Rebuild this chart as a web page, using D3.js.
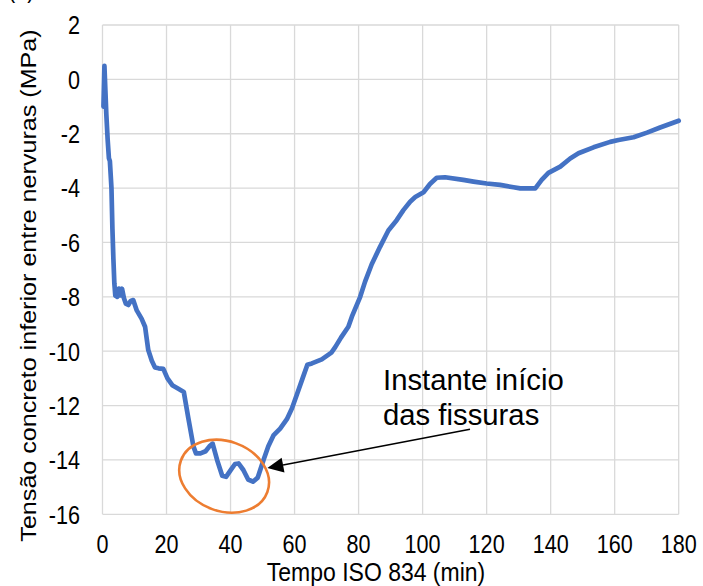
<!DOCTYPE html>
<html>
<head>
<meta charset="utf-8">
<script src="https://cdn.jsdelivr.net/npm/d3@7"></script>
<style>
  html, body { margin: 0; padding: 0; background: #fff; }
  svg { display: block; }
  text { font-family: "Liberation Sans", Arial, sans-serif; fill: #000; }
</style>
</head>
<body>
<svg id="chart" width="703" height="586"></svg>
<script>
// ---- data ----
const timeMin = [0.3,0.6,0.9,1.2,1.6,2.0,2.3,2.8,3.1,3.4,3.7,4.0,4.6,5.1,5.6,6.1,6.7,7.3,8.1,8.8,9.6,10.7,12.2,13.3,14.3,15.4,16.4,17.5,19.0,20.3,21.8,23.7,25.4,26.8,28.4,29.2,30.6,32.2,33.4,34.4,35.8,37.4,38.6,40.2,41.4,42.5,44.0,45.5,47.0,48.5,50.3,51.8,53.4,55.5,57.6,59.2,60.7,62.5,64.0,65.4,68.5,71.5,72.7,74.5,76.8,77.9,80.5,82.0,84.1,86.7,89.3,91.9,94.0,96.1,97.7,100.3,102.3,104.4,107.0,112.7,115.9,120.0,124.2,128.4,130.5,135.2,137.2,139.3,143.0,146.1,148.7,153.4,158.6,161.2,165.9,170.1,174.2,180.0];
const stressMPa = [-1.0,0.5,-0.4,-1.3,-2.2,-2.9,-3.0,-4.0,-5.5,-6.6,-7.5,-7.95,-8.0,-7.7,-7.95,-7.7,-8.05,-8.25,-8.3,-8.15,-8.12,-8.5,-8.8,-9.1,-9.96,-10.35,-10.6,-10.63,-10.65,-11.0,-11.25,-11.38,-11.5,-12.45,-13.5,-13.76,-13.76,-13.68,-13.5,-13.4,-14.0,-14.58,-14.62,-14.35,-14.15,-14.13,-14.37,-14.72,-14.8,-14.65,-14.0,-13.5,-13.1,-12.85,-12.5,-12.1,-11.6,-11.0,-10.5,-10.45,-10.3,-10.05,-9.85,-9.5,-9.1,-8.73,-8.0,-7.45,-6.8,-6.16,-5.56,-5.18,-4.81,-4.5,-4.33,-4.15,-3.85,-3.62,-3.6,-3.7,-3.76,-3.83,-3.88,-3.97,-4.01,-4.01,-3.7,-3.44,-3.21,-2.91,-2.72,-2.5,-2.3,-2.23,-2.13,-1.96,-1.77,-1.52];
const xTicks = [0,20,40,60,80,100,120,140,160,180];
const yTicks = [2,0,-2,-4,-6,-8,-10,-12,-14,-16];
const xTitle = "Tempo ISO 834 (min)";
const yTitle = "Tensão concreto inferior entre nervuras (MPa)";
const noteLines = ["Instante início", "das fissuras"];
const notePoint = [38, -14.6];   // centre of the highlighted region
const arrowTip = [51.5, -14.3];

// ---- layout ----
const svg = d3.select("#chart");
const pLeft = 102.5, pRight = 678.7, pTop = 25, pBottom = 514.3;
const x = d3.scaleLinear().domain([0,180]).range([pLeft,pRight]);
const y = d3.scaleLinear().domain([-16,2]).range([pBottom,pTop]);
const SY = 1.18;   // vertical stretch of the text in the reference

// gridlines
const grid = svg.append("g");
grid.selectAll("line.v").data(xTicks).join("line")
  .attr("x1", d => x(d)).attr("x2", d => x(d))
  .attr("y1", pTop).attr("y2", pBottom)
  .attr("stroke", "#d9d9d9").attr("stroke-width", 1.3);
grid.selectAll("line.h").data(yTicks).join("line")
  .attr("x1", pLeft).attr("x2", pRight)
  .attr("y1", d => y(d)).attr("y2", d => y(d))
  .attr("stroke", "#d9d9d9").attr("stroke-width", 1.3);

// tick labels
svg.append("g").selectAll("text").data(xTicks).join("text")
  .attr("transform", d => `translate(${x(d)},553.3) scale(1,${SY})`)
  .attr("text-anchor", "middle")
  .attr("font-size", 21.6)
  .text(d => d);
svg.append("g").selectAll("text").data(yTicks).join("text")
  .attr("transform", d => `translate(80,${y(d) + 9.3}) scale(1,${SY})`)
  .attr("text-anchor", "end")
  .attr("font-size", 21.6)
  .text(d => d);

// axis titles
svg.append("text")
  .attr("transform", `translate(376,581) scale(1,1.1)`)
  .attr("text-anchor", "middle")
  .attr("font-size", 23)
  .text(xTitle);
svg.append("text")
  .attr("transform", `translate(36,285.5) rotate(-90) scale(${SY},1)`)
  .attr("text-anchor", "middle")
  .attr("font-size", 21.3)
  .text(yTitle);

// partially visible panel label (cut by the top edge in the reference)
svg.append("text")
  .attr("transform", `translate(8,-2.5) scale(1,${SY})`)
  .attr("font-size", 21.6)
  .text("(b)");

// series line
const pts = timeMin.map((t,i) => [t, stressMPa[i]]);
svg.append("path")
  .datum(pts)
  .attr("fill", "none")
  .attr("stroke", "#4472C4")
  .attr("stroke-width", 4.7)
  .attr("stroke-linejoin", "round")
  .attr("stroke-linecap", "round")
  .attr("d", d3.line().x(d => x(d[0])).y(d => y(d[1])));

// highlight ellipse
svg.append("ellipse")
  .attr("transform", `translate(${x(notePoint[0])},${y(notePoint[1])}) rotate(20)`)
  .attr("rx", 46).attr("ry", 35)
  .attr("fill", "none")
  .attr("stroke", "#ED7D31")
  .attr("stroke-width", 2.6);

// annotation text
svg.append("g").selectAll("text").data(noteLines).join("text")
  .attr("transform", (d,i) => `translate(383,${390 + i*35}) scale(1,0.98)`)
  .attr("font-size", 29.3)
  .text(d => d);

// arrow
const ax0 = 470, ay0 = 429.3;
const tx = x(arrowTip[0]), ty = y(arrowTip[1]);
const ang = Math.atan2(ty - ay0, tx - ax0);
const headL = 16, headW = 7.5;
const bx = tx - headL*Math.cos(ang), by = ty - headL*Math.sin(ang);
svg.append("line")
  .attr("x1", ax0).attr("y1", ay0).attr("x2", bx).attr("y2", by)
  .attr("stroke", "#000").attr("stroke-width", 1.5);
svg.append("path")
  .attr("d", `M${tx},${ty} L${bx + headW*Math.sin(ang)},${by - headW*Math.cos(ang)} L${bx - headW*Math.sin(ang)},${by + headW*Math.cos(ang)} Z`)
  .attr("fill", "#000");
</script>
</body>
</html>
